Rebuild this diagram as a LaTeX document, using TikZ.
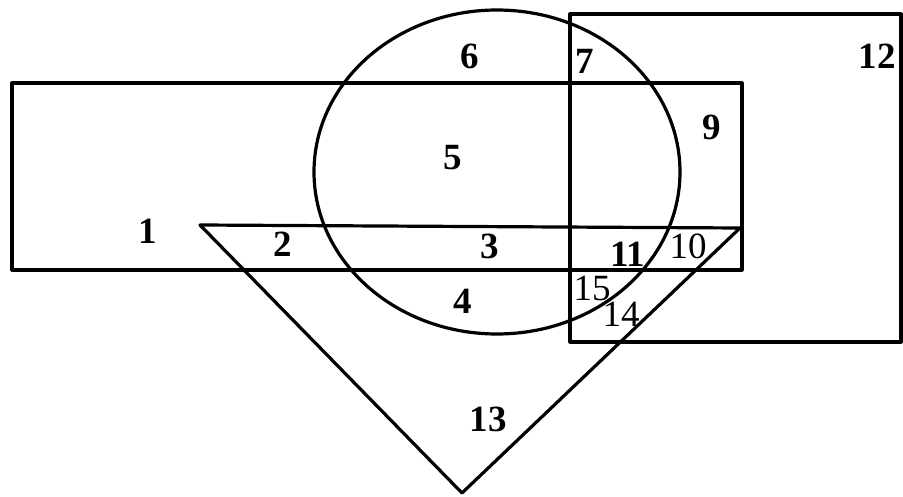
\documentclass[tikz,border=0pt]{standalone}
\usepackage{fontspec}
\setmainfont{Liberation Serif}
\usetikzlibrary{positioning}

\begin{document}
\begin{tikzpicture}[x=1pt,y=-1pt,line width=3.2pt,line join=round]
        \tikzset{
          regionlabel/.style={
            font=\fontsize{37}{40}\selectfont\bfseries,
            inner sep=0pt
          },
          thinlabel/.style={
            font=\fontsize{37}{40}\selectfont,
            inner sep=0pt
          }
        }
        \useasboundingbox (0,0) rectangle (903,497);
        % the four sets
        \draw (12,83) rectangle (742,270);
        \draw (570,14) rectangle (901,342);
        \draw (497,172) ellipse [x radius=183, y radius=162];
        \draw (200,225) -- (740,228) -- (462,493) -- cycle;
        % region numbers
        \node[regionlabel] (r1) at (148,231) {1};
        \node[regionlabel] (r2) at (283,244) {2};
        \node[regionlabel] (r3) at (490,246) {3};
        \node[regionlabel] (r4) at (463,301) {4};
        \node[regionlabel] (r5) at (453,158) {5};
        \node[regionlabel] (r6) at (470,56) {6};
        \node[regionlabel] (r7) at (585,61) {7};
        \node[regionlabel] (r9) at (712,127) {9};
        \node[thinlabel] (r10) at (688,246) {10};
        \node[regionlabel] (r11) at (628,254) {11};
        \node[regionlabel] (r12) at (877,56) {12};
        \node[regionlabel] (r13) at (488,419) {13};
        \node[thinlabel] (r14) at (621,314) {14};
        \node[thinlabel] (r15) at (592,288) {15};
      \end{tikzpicture}
\end{document}
